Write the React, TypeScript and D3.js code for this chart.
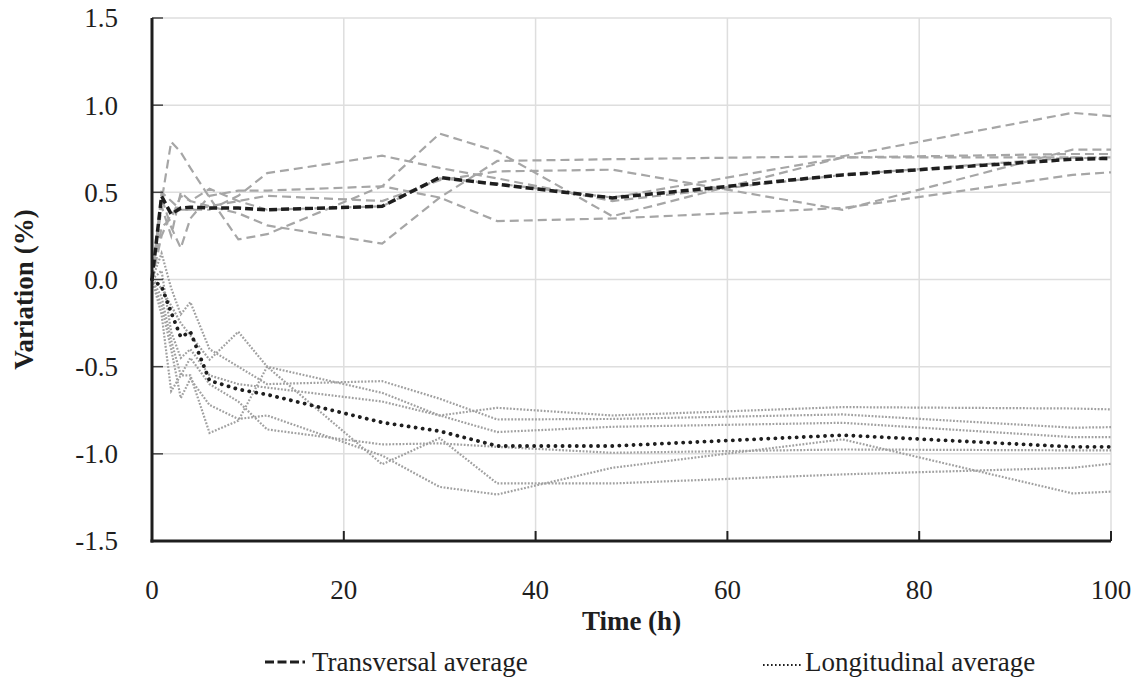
import * as d3 from "d3";

// time points (h)
const times = [0, 1, 2, 3, 4, 6, 9, 12, 24, 30, 36, 48, 72, 96, 100];

// transversal samples (%)
const transversal = [
  [0, 0.45, 0.79, 0.73, 0.64, 0.47, 0.23, 0.26, 0.535, 0.837, 0.735, 0.363, 0.70, 0.72, 0.72],
  [0, 0.30, 0.35, 0.48, 0.45, 0.42, 0.38, 0.31, 0.206, 0.47, 0.68, 0.69, 0.707, 0.956, 0.937],
  [0, 0.50, 0.45, 0.40, 0.40, 0.40, 0.48, 0.61, 0.71, 0.64, 0.58, 0.45, 0.60, 0.70, 0.69],
  [0, 0.47, 0.30, 0.18, 0.35, 0.48, 0.51, 0.51, 0.535, 0.47, 0.335, 0.35, 0.41, 0.60, 0.615],
  [0, 0.25, 0.38, 0.40, 0.40, 0.42, 0.45, 0.48, 0.45, 0.57, 0.62, 0.63, 0.40, 0.745, 0.745],
  [0, 0.42, 0.25, 0.50, 0.45, 0.52, 0.45, 0.40, 0.42, 0.58, 0.55, 0.47, 0.70, 0.70, 0.70],
];
const transversalAvg = [0, 0.478, 0.375, 0.41, 0.415, 0.41, 0.41, 0.40, 0.42, 0.585, 0.546, 0.468, 0.60, 0.69, 0.695];

// longitudinal samples (%)
const longitudinal = [
  [0, -0.05, -0.15, -0.25, -0.32, -0.46, -0.30, -0.50, -0.65, -0.78, -0.736, -0.78, -0.732, -0.74, -0.745],
  [0, 0.15, -0.05, -0.20, -0.13, -0.40, -0.50, -0.60, -0.583, -0.684, -0.803, -0.80, -0.774, -0.85, -0.847],
  [0, 0.05, -0.30, -0.45, -0.40, -0.55, -0.60, -0.62, -0.70, -0.78, -0.875, -0.845, -0.822, -0.904, -0.904],
  [0, -0.10, -0.35, -0.55, -0.55, -0.88, -0.81, -0.50, -1.06, -0.91, -1.17, -1.17, -1.118, -1.08, -1.057],
  [0, -0.20, -0.64, -0.55, -0.45, -0.60, -0.70, -0.86, -0.946, -0.94, -0.96, -0.994, -0.975, -0.98, -0.98],
  [0, -0.15, -0.40, -0.68, -0.57, -0.72, -0.80, -0.78, -1.01, -1.19, -1.233, -1.08, -0.917, -1.227, -1.217],
];
const longitudinalAvg = [0, -0.04, -0.19, -0.33, -0.30, -0.58, -0.63, -0.66, -0.82, -0.87, -0.955, -0.955, -0.893, -0.96, -0.96];

const xTicks = [0, 20, 40, 60, 80, 100];
const yTicks = [-1.5, -1.0, -0.5, 0.0, 0.5, 1.0, 1.5];

const width = 1138;
const height = 677;
const margin = { top: 18, right: 27, bottom: 136, left: 152 };
const w = width - margin.left - margin.right;
const h = height - margin.top - margin.bottom;
const font = "Liberation Serif";
const ink = "#1e1e1e";

export default function App() {
  document.body.style.margin = "0";

  const x = d3.scaleLinear().domain([0, 100]).range([0, w]);
  const y = d3.scaleLinear().domain([-1.5, 1.5]).range([h, 0]);
  const line = d3.line<number>()
    .x((_, i) => x(times[i]))
    .y(d => y(d));

  return (
    <svg width={width} height={height} style={{ display: "block" }} fontFamily={font}>
      <g transform={`translate(${margin.left},${margin.top})`}>
        {/* grid */}
        {yTicks.filter(d => d > -1.5).map(d => (
          <line key={"gy" + d} x1={0} x2={w} y1={y(d)} y2={y(d)} stroke="#dedede" strokeWidth={1.5} />
        ))}
        {xTicks.filter(d => d > 0).map(d => (
          <line key={"gx" + d} x1={x(d)} x2={x(d)} y1={0} y2={h} stroke="#dedede" strokeWidth={1.5} />
        ))}

        {/* individual samples */}
        {transversal.map((s, i) => (
          <path key={"t" + i} d={line(s) ?? ""} fill="none" stroke="#a6a6a6" strokeWidth={2.2} strokeDasharray="9 5" />
        ))}
        {longitudinal.map((s, i) => (
          <path key={"l" + i} d={line(s) ?? ""} fill="none" stroke="#a0a0a0" strokeWidth={2.2} strokeDasharray="1.8 1.6" />
        ))}

        {/* averages */}
        <path d={line(transversalAvg) ?? ""} fill="none" stroke={ink} strokeWidth={3.5} strokeDasharray="8 4" />
        <path d={line(longitudinalAvg) ?? ""} fill="none" stroke={ink} strokeWidth={3.8}
          strokeLinecap="round" strokeDasharray="0.1 7" />

        {/* ticks */}
        {yTicks.map(d => (
          <line key={"ty" + d} x1={0} x2={11} y1={y(d)} y2={y(d)} stroke="#444" strokeWidth={1.5} />
        ))}
        {xTicks.map(d => (
          <line key={"tx" + d} x1={x(d)} x2={x(d)} y1={h} y2={h - 10} stroke="#222" strokeWidth={2} />
        ))}

        {/* axis lines */}
        <line x1={0} x2={0} y1={0} y2={h + 1.5} stroke={ink} strokeWidth={3} />
        <line x1={-1.5} x2={w} y1={h} y2={h} stroke={ink} strokeWidth={3} />

        {/* tick labels */}
        {yTicks.map(d => (
          <text key={"ly" + d} x={-34} y={y(d)} dy="0.35em" textAnchor="end" fontSize={27} fill={ink}>
            {d.toFixed(1)}
          </text>
        ))}
        {xTicks.map(d => (
          <text key={"lx" + d} x={x(d)} y={h + 58} textAnchor="middle" fontSize={27} fill={ink}>
            {d}
          </text>
        ))}
      </g>

      {/* axis titles */}
      <text x={margin.left + w / 2} y={630} textAnchor="middle" fontSize={27} fontWeight="bold" fill={ink}>
        Time (h)
      </text>
      <text transform={`translate(33,${margin.top + h / 2 + 10}) rotate(-90)`} textAnchor="middle"
        fontSize={27} fontWeight="bold" fill={ink}>
        Variation (%)
      </text>

      {/* legend */}
      <g transform="translate(265,662)">
        <line x1={0} x2={40} y1={0} y2={0} stroke={ink} strokeWidth={3} strokeDasharray="9 3.5" />
        <text x={47} y={9} fontSize={27} fill={ink}>
          Transversal average
        </text>
        <line x1={498} x2={538} y1={3} y2={3} stroke={ink} strokeWidth={2.2} strokeDasharray="1.6 2.4" />
        <text x={540} y={9} fontSize={27} fill={ink}>
          Longitudinal average
        </text>
      </g>
    </svg>
  );
}
